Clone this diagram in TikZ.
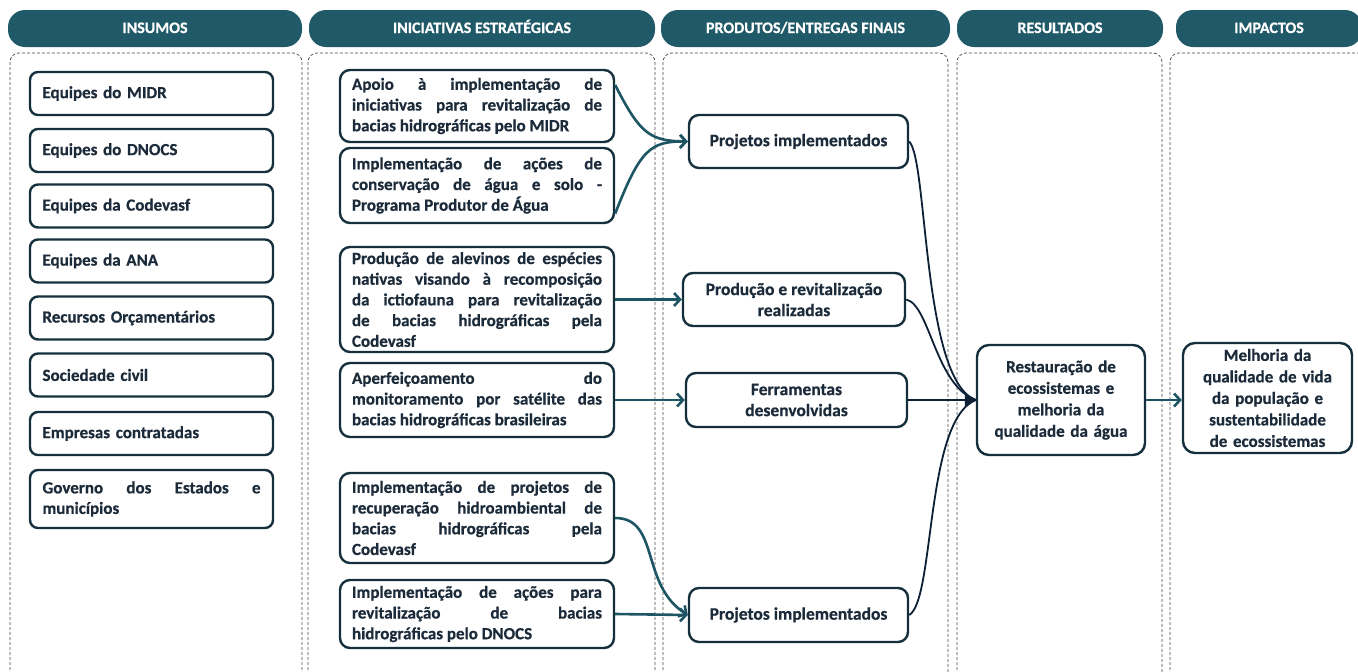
\documentclass[tikz,border=0pt]{standalone}
\usepackage{fontspec}
\setmainfont{Carlito}[BoldFeatures={FakeBold=0.6}]
\usetikzlibrary{arrows.meta,calc}
\definecolor{hdrcol}{HTML}{205968}
\definecolor{boxcol}{HTML}{15303C}
\definecolor{txtcol}{HTML}{1C2B3A}
\definecolor{tealarr}{HTML}{1E5565}
\definecolor{navyarr}{HTML}{0E2036}
\definecolor{panelcol}{HTML}{4A4A4A}
\tikzset{
  x=1pt,y=-1pt,
  hdr/.style={fill=hdrcol,rounded corners=17pt,text=white,font=\bfseries\fontsize{16}{18}\selectfont,inner sep=0pt,text height=11.5pt,text depth=2.5pt},
  panel/.style={draw=panelcol,dash pattern=on 3pt off 2pt,line width=0.7pt,rounded corners=9pt},
  inbox/.style={draw=boxcol,line width=2.4pt,rounded corners=8pt,text=txtcol,font=\bfseries\fontsize{17}{20.5}\selectfont,minimum width=243pt,text width=218pt,align=left,inner xsep=12.5pt},
  inibox/.style={draw=boxcol,line width=2.4pt,rounded corners=10pt,text=txtcol,font=\bfseries\fontsize{17}{20.7}\selectfont,minimum width=274pt,text width=250pt,align=justify,inner xsep=12pt},
  prodbox/.style={draw=boxcol,line width=2.4pt,rounded corners=10pt,text=txtcol,font=\bfseries\fontsize{17.5}{21}\selectfont,align=center,minimum height=53pt},
  resbox/.style={draw=boxcol,line width=2.4pt,rounded corners=12pt,text=txtcol,font=\bfseries\fontsize{17}{21.5}\selectfont,align=center,minimum width=168pt,minimum height=110pt,text width=160pt},
  tarr/.style={draw=tealarr,line width=2.6pt,-{Straight Barb[length=6pt,width=13pt,line width=2.6pt]}},
  narr/.style={draw=navyarr,line width=1.8pt},
}
\begin{document}
\begin{tikzpicture}
\useasboundingbox (0,0) rectangle (1358,672);
\fill[white] (0,0) rectangle (1358,672);
% headers
\node[hdr,minimum width=294pt,minimum height=37pt] (h1) at (155,28.5) {INSUMOS};
\node[hdr,minimum width=346pt,minimum height=37pt] (h2) at (482,28.5) {INICIATIVAS ESTRATÉGICAS};
\node[hdr,minimum width=289pt,minimum height=37pt] (h3) at (805.5,28.5) {PRODUTOS/ENTREGAS FINAIS};
\node[hdr,minimum width=206pt,minimum height=37pt] (h4) at (1060,28.5) {RESULTADOS};
\node[hdr,minimum width=186pt,minimum height=37pt] (h5) at (1269,28.5) {IMPACTOS};
% panels
\draw[panel] (10,690) -- (10,53) -- (302,53) -- (302,690);
\draw[panel] (308,690) -- (308,53) -- (655,53) -- (655,690);
\draw[panel] (663,690) -- (663,53) -- (948,53) -- (948,690);
\draw[panel] (957,690) -- (957,53) -- (1162,53) -- (1162,690);
\draw[panel] (1170,690) -- (1170,53) -- (1370,53) -- (1370,690);
% inputs
\node[inbox,minimum height=43pt] (a1) at (151.5,93.5) {Equipes do MIDR};
\node[inbox,minimum height=43pt] (a2) at (151.5,150.5) {Equipes do DNOCS};
\node[inbox,minimum height=43pt] (a3) at (151.5,206) {Equipes da Codevasf};
\node[inbox,minimum height=43pt] (a4) at (151.5,261) {Equipes da ANA};
\node[inbox,minimum height=43pt] (a5) at (151.5,318) {Recursos Orçamentários};
\node[inbox,minimum height=43pt] (a6) at (151.5,375) {Sociedade civil};
\node[inbox,minimum height=43pt] (a7) at (151.5,433.5) {Empresas contratadas};
\node[inbox,minimum height=58pt,align=justify] (a8) at (151.5,499) {Governo dos Estados e\linebreak municípios};
% initiatives
\node[inibox,minimum height=72pt] (i1) at (477,106) {Apoio à implementação de\linebreak iniciativas para revitalização de\linebreak bacias hidrográficas pelo MIDR};
\node[inibox,minimum height=75pt] (i2) at (477,185.5) {Implementação de ações de\linebreak conservação de água e solo -\linebreak Programa Produtor de Água};
\node[inibox,minimum height=105pt] (i3) at (477,299.5) {Produção de alevinos de espécies\linebreak nativas visando à recomposição\linebreak da ictiofauna para revitalização\linebreak de bacias hidrográficas pela\linebreak Codevasf};
\node[inibox,minimum height=74pt] (i4) at (477,400) {Aperfeiçoamento do\linebreak monitoramento por satélite das\linebreak bacias hidrográficas brasileiras};
\node[inibox,minimum height=90pt] (i5) at (477,518) {Implementação de projetos de\linebreak recuperação hidroambiental de\linebreak bacias hidrográficas pela\linebreak Codevasf};
\node[inibox,minimum height=68pt] (i6) at (477,614) {Implementação de ações para\linebreak revitalização de bacias\linebreak hidrográficas pelo DNOCS};
% products
\node[prodbox,minimum width=219pt] (p1) at (798.5,141.5) {Projetos implementados};
\node[prodbox,minimum width=222pt] (p2) at (794,299.5) {Produção e revitalização\\realizadas};
\node[prodbox,minimum width=221pt,minimum height=54pt] (p3) at (796.5,400) {Ferramentas\\desenvolvidas};
\node[prodbox,minimum width=219pt,minimum height=54pt] (p4) at (798.5,615) {Projetos implementados};
% result and impact
\node[resbox] (r) at (1061,400) {Restauração de\\ecossistemas e\\melhoria da\\qualidade da água};
\node[resbox,minimum width=169pt] (m) at (1267.5,398) {Melhoria da\\qualidade de vida\\da população e\\sustentabilidade\\de ecossistemas};
% initiative -> product arrows
\draw[tarr] ([yshift=21pt]i1.east) .. controls (640,134) and (650,141) .. (p1.west);
\draw[tarr] ([yshift=-28pt]i2.east) .. controls (640,150) and (650,141) .. (p1.west);
\draw[tarr] (i3.east) -- (p2.west);
\draw[tarr] (i4.east) -- (p3.west);
\draw[tarr] (i5.east) .. controls (660,518) and (640,585) .. (p4.west);
\draw[tarr] (i6.east) -- (p4.west);
% product -> result
\draw[narr] (p1.east) .. controls (928,160) and (922,380) .. (r.west);
\draw[narr] (p2.east) .. controls (930,305) and (935,385) .. (r.west);
\draw[narr] (p4.east) .. controls (935,600) and (925,420) .. (r.west);
\draw[narr,-{Triangle[length=11pt,width=12pt]}] (p3.east) -- (r.west);
% result -> impact
\draw[tarr] (r.east) -- (r.east -| m.west);
\end{tikzpicture}
\end{document}
